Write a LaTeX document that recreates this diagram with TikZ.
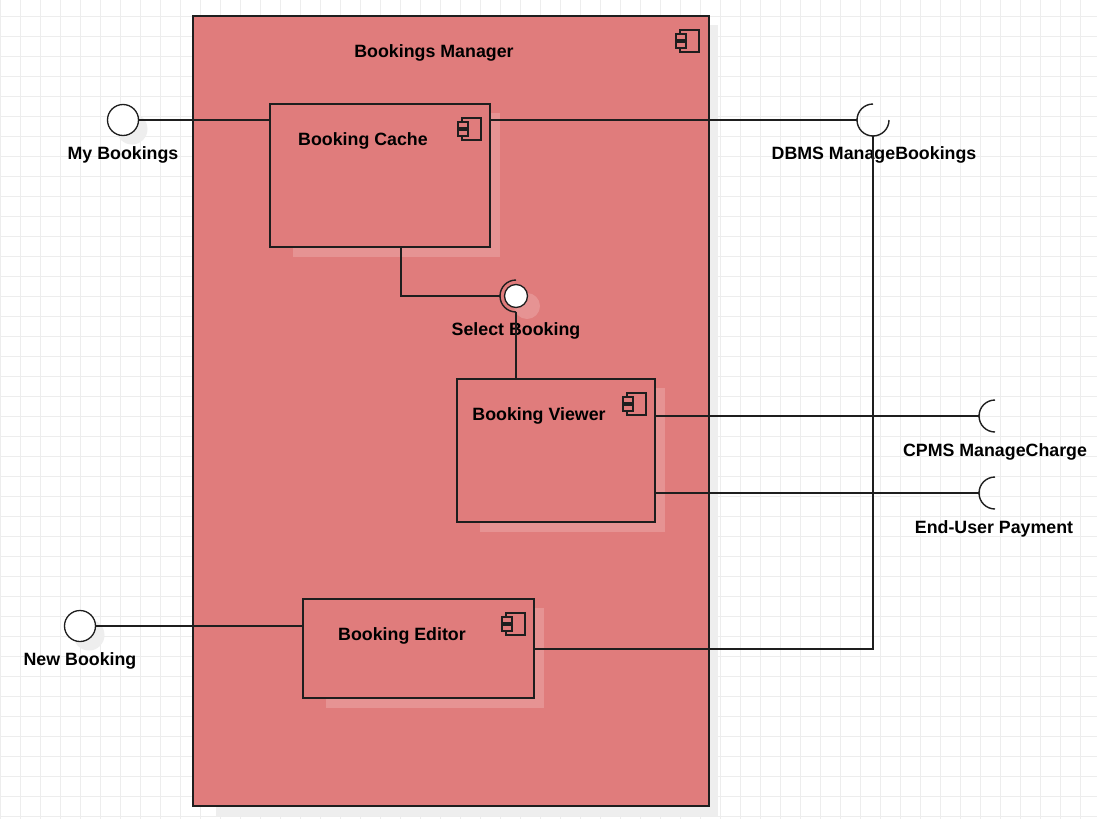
\documentclass[tikz,border=0pt]{standalone}
\usepackage{fontspec}
\setmainfont{Liberation Sans}
\definecolor{compred}{HTML}{E07C7C}
\definecolor{linec}{HTML}{1E1E1E}
\definecolor{gridc}{HTML}{EDEDED}
\definecolor{shadowout}{HTML}{EEEEEE}
\definecolor{shadowin}{HTML}{E69393}
\tikzset{
  gridline/.style={draw=gridc, line width=1pt},
  comp/.style={draw=linec, fill=compred, line width=1.3pt, inner sep=0pt, outer sep=0pt, anchor=north west},
  shout/.style={fill=shadowout, draw=none},
  shin/.style={fill=shadowin, draw=none},
  lbl/.style={font=\fontsize{17.8}{20}\selectfont\bfseries, text=black, inner sep=0pt},
  conn/.style={draw=linec, line width=1.4pt},
  ball/.style={circle, draw=linec, fill=white, line width=1.3pt, inner sep=0pt, outer sep=0pt},
  iconline/.style={draw=linec, line width=1.2pt, fill=compred},
  cicon/.pic={
    \draw[iconline] (-19,0) rectangle (0,22);
    \draw[iconline] (-23,4) rectangle (-13,10);
    \draw[iconline] (-23,12) rectangle (-13,18);
  }
}
\begin{document}
\begin{tikzpicture}[x=1pt,y=-1pt]
\useasboundingbox (0,0) rectangle (1097,819);
\fill[white] (0,0) rectangle (1097,819);
% grid
\foreach \gx in {0,20,...,1080} { \draw[gridline] (\gx,0) -- (\gx,819); }
\foreach \gy in {16,36,...,816} { \draw[gridline] (0,\gy) -- (1097,\gy); }

% main component
\fill[shout] (216,25) rectangle (718,816);
\node[comp, minimum width=516pt, minimum height=790pt] (mgr) at (193,16) {};
\node[lbl] (mgrt) at (434,53) {Bookings Manager};
\pic at ([xshift=-10pt,yshift=-14pt]mgr.north east) {cicon};

% inner shadows
\fill[shin] (293,113) rectangle (500,257);
\fill[shin] (480,388) rectangle (665,532);
\fill[shin] (326,608) rectangle (544,708);

% sub-components
\node[comp, minimum width=220pt, minimum height=143pt] (cache) at (270,104) {};
\node[lbl] (cachet) at (363,141) {Booking Cache};
\pic at ([xshift=-9pt,yshift=-14pt]cache.north east) {cicon};

\node[comp, minimum width=198pt, minimum height=143pt] (viewer) at (457,379) {};
\node[lbl] (viewert) at (539,416) {Booking Viewer};
\pic at ([xshift=-9pt,yshift=-14pt]viewer.north east) {cicon};

\node[comp, minimum width=231pt, minimum height=99pt] (editor) at (303,599) {};
\node[lbl] (editort) at (402,636) {Booking Editor};
\pic at ([xshift=-9pt,yshift=-14pt]editor.north east) {cicon};

% provided interfaces (balls)
\fill[shadowout] (132,129) circle[radius=15.5pt];
\node[ball, minimum size=31pt] (mybk) at (123,120) {};
\node[lbl] (mybkt) at (123,155) {My Bookings};

\fill[shadowout] (89,635) circle[radius=15.5pt];
\node[ball, minimum size=31pt] (newbk) at (80,626) {};
\node[lbl] (newbkt) at (80,661) {New Booking};

\fill[shin] (527,306) circle[radius=13pt];
\node[ball, minimum size=23pt] (selb) at (516,296) {};
\node[lbl] (selbt) at (516,331) {Select Booking};

% required interfaces (sockets)
\coordinate (dbms) at (873,120);
\coordinate (cpms) at (995,416);
\coordinate (pay) at (995,493);
\draw[conn] ([yshift=16pt]dbms) arc[start angle=90, end angle=360, radius=16pt];
\draw[conn] ([yshift=16pt]cpms) arc[start angle=90, end angle=270, radius=16pt];
\draw[conn] ([yshift=16pt]pay) arc[start angle=90, end angle=270, radius=16pt];
\draw[conn] ([yshift=16pt]selb.center) arc[start angle=90, end angle=270, radius=16pt];
\node[lbl] (dbmst) at (874,155) {DBMS ManageBookings};
\node[lbl] (cpmst) at (995,452) {CPMS ManageCharge};
\node[lbl] (payt) at (994,529) {End-User Payment};

% connectors
\draw[conn] (mybk.east) -- (mybk.east -| cache.west);
\draw[conn] (newbk.east) -- (newbk.east -| editor.west);
\draw[conn] (cache.east |- dbms) -- ([xshift=-16pt]dbms);
\draw[conn] ([yshift=-0.5pt]editor.east) -| ([yshift=-16pt]dbms);
\draw[conn] (viewer.east |- cpms) -- ([xshift=-16pt]cpms);
\draw[conn] (viewer.east |- pay) -- ([xshift=-16pt]pay);
\draw[conn] ([xshift=21pt]cache.south) |- ([xshift=-16pt]selb.center);
\draw[conn] (viewer.north -| selb.center) -- ([yshift=-16pt]selb.center);
\end{tikzpicture}
\end{document}
